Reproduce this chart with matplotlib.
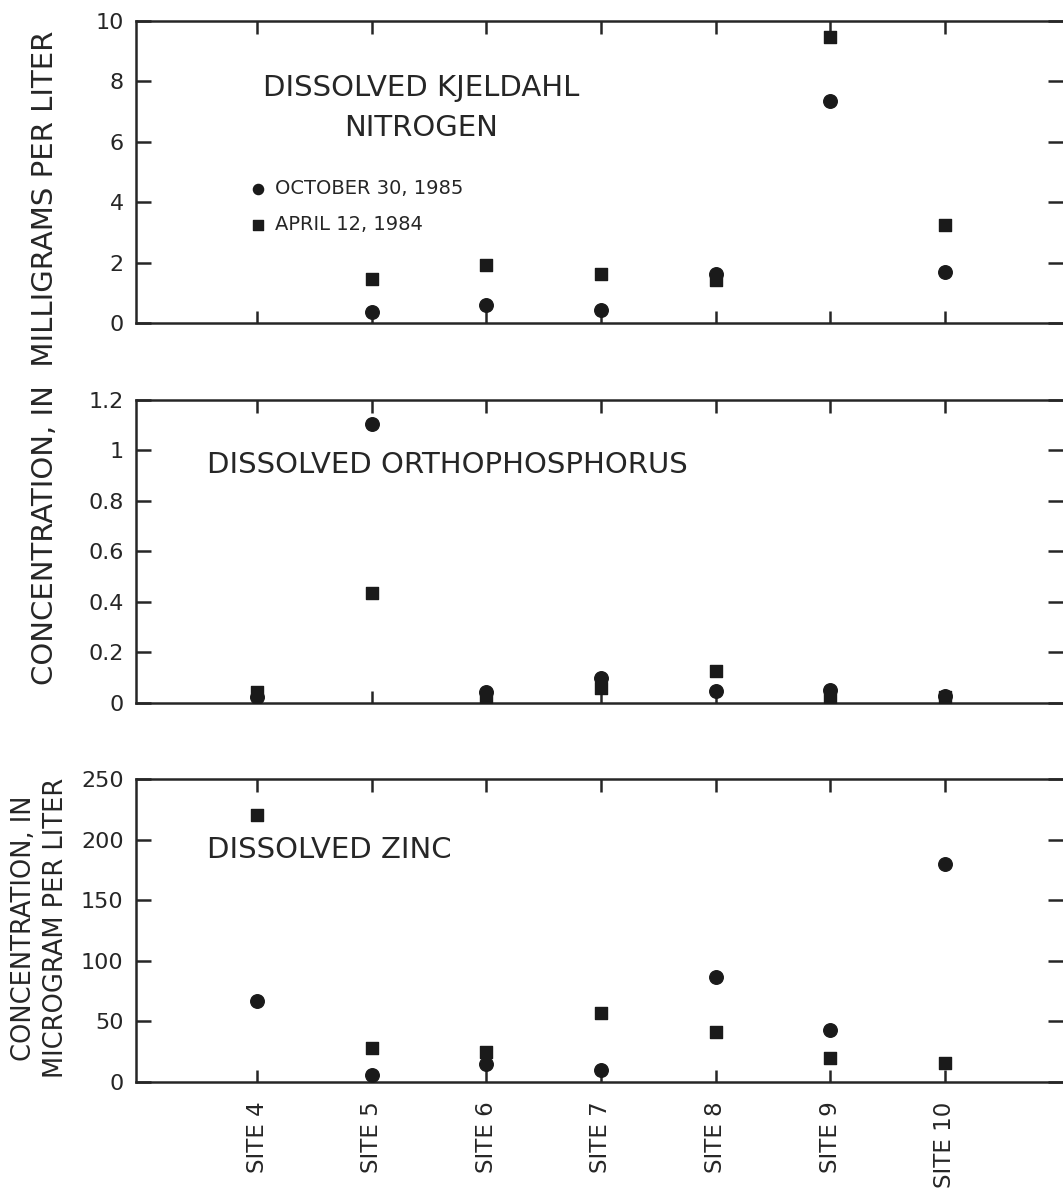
import matplotlib
matplotlib.use('Agg')
import matplotlib.pyplot as plt
import numpy as np

# ---------------- data ----------------
sites = ['SITE 4', 'SITE 5', 'SITE 6', 'SITE 7', 'SITE 8', 'SITE 9', 'SITE 10']
site_num = [4, 5, 6, 7, 8, 9, 10]

label_oct = 'OCTOBER 30, 1985'
label_apr = 'APRIL 12, 1984'

tkn_oct = [np.nan, 0.35, 0.60, 0.42, 1.63, 7.35, 1.70]
tkn_apr = [np.nan, 1.45, 1.93, 1.62, 1.42, 9.47, 3.25]

op_oct = [0.025, 1.105, 0.045, 0.10, 0.048, 0.05, 0.028]
op_apr = [0.045, 0.436, 0.025, 0.06, 0.127, 0.025, 0.022]

zn_oct = [67, 6, 15, 10, 87, 43, 180]
zn_apr = [220, 28, 25, 57, 41, 20, 16]

tkn_ticks = [0, 2, 4, 6, 8, 10]
tkn_ticklabels = ['0', '2', '4', '6', '8', '10']
op_ticks = [0, 0.2, 0.4, 0.6, 0.8, 1.0, 1.2]
op_ticklabels = ['0', '0.2', '0.4', '0.6', '0.8', '1', '1.2']
zn_ticks = [0, 50, 100, 150, 200, 250]
zn_ticklabels = ['0', '50', '100', '150', '200', '250']

# ---------------- style ----------------
INK = '#262626'
plt.rcParams['font.family'] = ['DejaVu Sans']
plt.rcParams['text.color'] = INK

fig = plt.figure(figsize=(10.63, 12.01), dpi=100)

left = 0.128
width = 0.872
rects = [
    [left, 0.7311, width, 0.2514],
    [left, 0.4147, width, 0.2523],
    [left, 0.0991, width, 0.2523],
]

XLIM = (2.945, 11.03)
MS_C = 95
MS_S = 80


def style_axis(ax, yticks, yticklabels, ylim, show_xlabels=False):
    ax.set_xlim(*XLIM)
    ax.set_ylim(*ylim)
    for side in ['left', 'top', 'bottom']:
        ax.spines[side].set_linewidth(1.8)
        ax.spines[side].set_color(INK)
    ax.spines['right'].set_visible(False)
    ax.set_yticks(yticks)
    ax.set_yticklabels(yticklabels)
    ax.set_xticks(site_num)
    if show_xlabels:
        ax.set_xticklabels(sites, rotation=90, fontsize=16.5, color=INK)
    else:
        ax.set_xticklabels([])
    ax.tick_params(axis='y', which='both', direction='in', left=True, right=True,
                   length=11, width=1.8, color=INK, labelsize=16, labelcolor=INK, pad=9)
    ax.tick_params(axis='x', which='both', direction='in', top=True, bottom=True,
                   length=9, width=1.8, color=INK, pad=14)
    ax.set_facecolor('white')


# ---- panel 1: Kjeldahl nitrogen ----
ax1 = fig.add_axes(rects[0])
ax1.scatter(site_num, tkn_apr, marker='s', s=MS_S, color='#1a1a1a', label=label_apr, zorder=3)
ax1.scatter(site_num, tkn_oct, marker='o', s=MS_C, color='#1a1a1a', label=label_oct, zorder=4)
style_axis(ax1, tkn_ticks, tkn_ticklabels, (0, 10))
ax1.text(5.43, 7.12, 'DISSOLVED KJELDAHL\nNITROGEN', ha='center', va='center',
         fontsize=21, linespacing=1.55, color=INK)
h, l = ax1.get_legend_handles_labels()
ax1.legend([h[1], h[0]], [l[1], l[0]], loc='upper left', bbox_to_anchor=(3.93, 4.76),
           bbox_transform=ax1.transData, frameon=False, fontsize=14,
           handletextpad=0.45, labelspacing=0.85, handlelength=0.9, borderpad=0,
           borderaxespad=0, markerscale=0.75, labelcolor=INK)

# ---- panel 2: orthophosphorus ----
ax2 = fig.add_axes(rects[1])
ax2.scatter(site_num, op_apr, marker='s', s=MS_S, color='#1a1a1a', zorder=3)
ax2.scatter(site_num, op_oct, marker='o', s=MS_C, color='#1a1a1a', zorder=4)
style_axis(ax2, op_ticks, op_ticklabels, (0, 1.2))
ax2.text(3.56, 0.943, 'DISSOLVED ORTHOPHOSPHORUS', ha='left', va='center',
         fontsize=21, color=INK)

# ---- panel 3: zinc ----
ax3 = fig.add_axes(rects[2])
ax3.scatter(site_num, zn_apr, marker='s', s=MS_S, color='#1a1a1a', zorder=3)
ax3.scatter(site_num, zn_oct, marker='o', s=MS_C, color='#1a1a1a', zorder=4)
style_axis(ax3, zn_ticks, zn_ticklabels, (0, 250), show_xlabels=True)
ax3.text(3.56, 191.4, 'DISSOLVED ZINC', ha='left', va='center',
         fontsize=21, color=INK)

# ---- y-axis titles ----
fig.text(45 / 1063, 1 - 358 / 1201, 'CONCENTRATION, IN  MILLIGRAMS PER LITER',
         rotation=90, ha='center', va='center', fontsize=21, color=INK)
fig.text(24 / 1063, 1 - 928 / 1201, 'CONCENTRATION, IN',
         rotation=90, ha='center', va='center', fontsize=18.5, color=INK)
fig.text(56 / 1063, 1 - 928 / 1201, 'MICROGRAM PER LITER',
         rotation=90, ha='center', va='center', fontsize=18.5, color=INK)

fig.savefig('out.png', dpi=100, facecolor='white')
